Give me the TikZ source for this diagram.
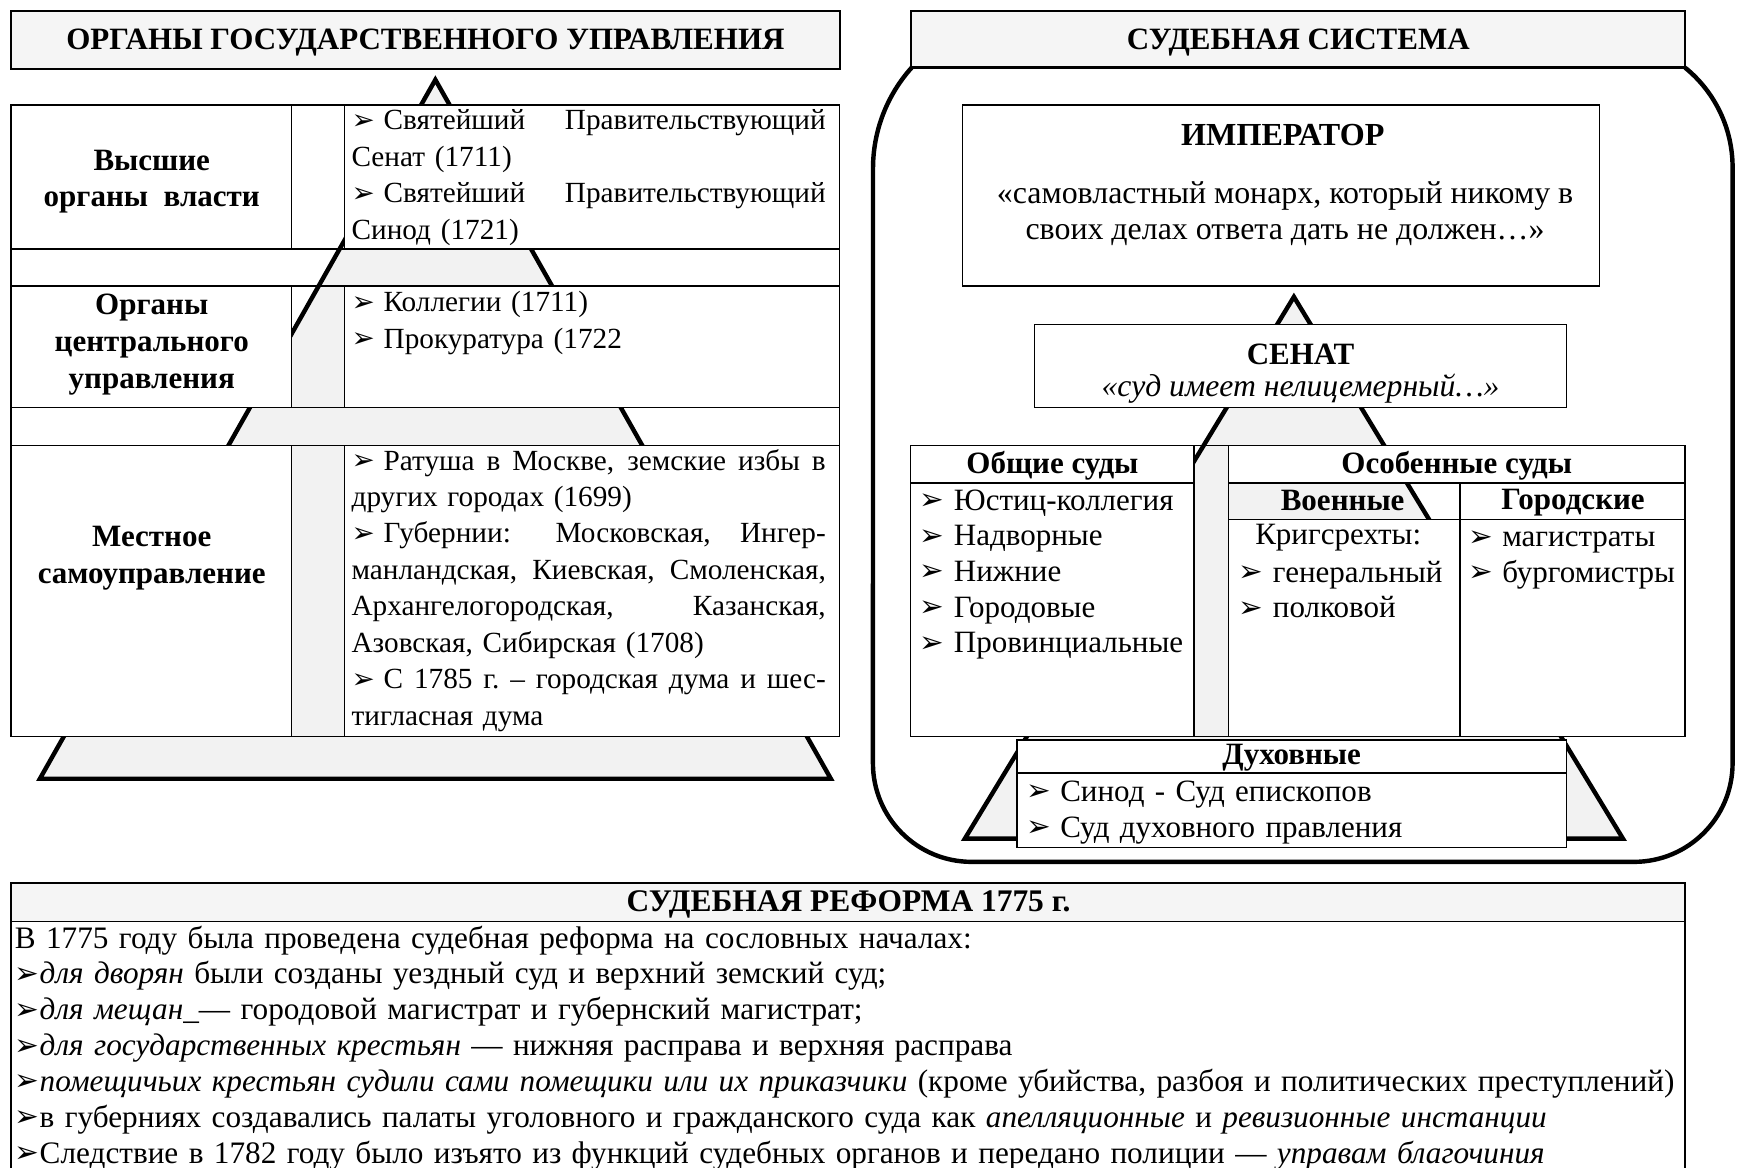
\documentclass[tikz,border=0pt]{standalone}
\usepackage{fontspec}
\setmainfont{Liberation Serif}
\newfontfamily\symf{DejaVu Sans}
\newcommand{\mybul}{\raisebox{0.02em}{\scalebox{0.95}{\symf ➢}}}
\newcommand{\bsp}{\mybul\kern0.3em}
\newcommand{\jl}[1]{{\spaceskip=0pt\xspaceskip=0pt\makebox[\hsize][s]{#1}}}
\newcommand{\tstr}{\rule{0pt}{0.85em}}
\tikzset{
  cellbox/.style={draw=black, line width=0.7pt, fill=white},
  openbox/.style={draw=black, line width=0.7pt},
  hdrbox/.style={draw=black, line width=1pt, fill=gray!8},
  pyr/.style={draw=black, line width=2pt, fill=gray!10, line join=miter},
  frame/.style={draw=black, line width=2pt},
  txt/.style={inner sep=0pt, anchor=north west, align=left, font=\fontsize{13.2}{16.45}\selectfont},
  ctxt/.style={inner sep=0pt, anchor=north west, align=left, font=\fontsize{14}{16.1}\selectfont},
  btxt/.style={inner sep=0pt, anchor=north west, align=left, font=\fontsize{14.1}{16.2}\selectfont},
  lbl/.style={inner sep=0pt, align=center, font=\bfseries\fontsize{14}{16.5}\selectfont},
  ttl/.style={inner sep=0pt, font=\bfseries\fontsize{14}{17}\selectfont},
}
\begin{document}
\begin{tikzpicture}[x=0.5pt,y=-0.5pt]
\useasboundingbox[fill=white] (0,0) rectangle (1568,1054);

% ---------------- LEFT PANEL ----------------
\draw[hdrbox] (10,10) rectangle (758,62);
\node[ttl] (lhdr) at (384,38) {ОРГАНЫ ГОСУДАРСТВЕННОГО УПРАВЛЕНИЯ};
\draw[pyr] (393,72) -- (750,703) -- (36,703) -- cycle;
\draw[openbox] (10,95) rectangle (758,665);
\draw[openbox] (10,225) -- (758,225) (10,258) -- (758,258) (10,368) -- (758,368) (10,402) -- (758,402);
\foreach \a/\b in {95/225, 258/368, 402/665} {
  \draw[cellbox] (10,\a) rectangle (263,\b);
  \draw[openbox] (263,\a) rectangle (311,\b);
  \draw[cellbox] (311,\a) rectangle (758,\b);
}
\node[lbl] (r1l) at (137,164) {Высшие\\органы\ \ власти};
\node[lbl] (r2l) at (137,311) {Органы\\центрального\\управления};
\node[lbl] (r3l) at (137,504) {Местное\\самоуправление};
\node[txt, text width=214pt] (r1t) at (317,94.5) {\tstr\jl{\bsp Святейший Правительствующий}\\Сенат (1711)\\\jl{\bsp Святейший Правительствующий}\\Синод (1721)};
\node[txt, text width=214pt] (r2t) at (317,258.5) {\tstr\bsp Коллегии (1711)\\\bsp Прокуратура (1722};
\node[txt, text width=214pt] (r3t) at (317,401.5) {\tstr\jl{\bsp Ратуша в Москве, земские избы в}\\других городах (1699)\\\jl{\bsp Губернии: Московская, Ингер-}\\\jl{манландская, Киевская, Смоленская,}\\\jl{Архангелогородская, Казанская,}\\Азовская, Сибирская (1708)\\\jl{\bsp С 1785 г.\ – городская дума и шес-}\\тигласная дума};

% ---------------- RIGHT PANEL ----------------
\draw[hdrbox] (822,10) rectangle (1521,61);
\node[ttl] (rhdr) at (1172,38) {СУДЕБНАЯ СИСТЕМА};
\draw[frame] (823,61) arc[start angle=222, end angle=180, radius=136] -- (788,689)
  arc[start angle=180, end angle=90, radius=89] -- (1475,778)
  arc[start angle=90, end angle=0, radius=89] -- (1564,151)
  arc[start angle=0, end angle=-51, radius=115.7];
\draw[cellbox] (869,95) rectangle (1444,258);
\node[inner sep=0pt, font=\bfseries\fontsize{14.5}{18}\selectfont] (imp) at (1158,122) {ИМПЕРАТОР};
\node[inner sep=0pt, align=center, font=\fontsize{14.4}{16.5}\selectfont] (impq) at (1160,193) {«самовластный монарх, который никому в\\своих делах ответа дать не должен…»};
\draw[pyr] (1168,268) -- (1465,757) -- (871,757) -- cycle;
\draw[cellbox] (934,293) rectangle (1414,368);
\node[inner sep=0pt, font=\bfseries\fontsize{14}{17}\selectfont] (sen) at (1174,320) {СЕНАТ};
\node[inner sep=0pt, font=\itshape\fontsize{14.3}{16}\selectfont] (senq) at (1174,351) {«суд имеет нелицемерный…»};
% courts table
\draw[cellbox] (822,402) rectangle (1078,436);
\draw[cellbox] (822,436) rectangle (1078,665);
\draw[openbox] (1078,402) rectangle (1109,665);
\draw[cellbox] (1109,402) rectangle (1521,436);
\draw[openbox] (1109,436) rectangle (1318,469);
\draw[cellbox] (1318,436) rectangle (1521,469);
\draw[cellbox] (1109,469) rectangle (1318,665);
\draw[cellbox] (1318,469) rectangle (1521,665);
\node[lbl] (obsh) at (950,420) {Общие суды};
\node[lbl] (osob) at (1315,420) {Особенные суды};
\node[lbl] (voen) at (1212,452) {Военные};
\node[lbl] (gorod) at (1420,454) {Городские};
\node[ctxt, text width=120pt] (obsht) at (830,436.4) {\tstr\bsp Юстиц-коллегия\\\bsp Надворные\\\bsp Нижние\\\bsp Городовые\\\bsp Провинциальные};
\node[inner sep=0pt, font=\fontsize{14}{16.1}\selectfont] (krig) at (1208,485) {Кригсрехты:};
\node[ctxt, text width=100pt] (voent) at (1118,501.4) {\tstr\bsp генеральный\\\bsp полковой};
\node[ctxt, text width=100pt] (gorodt) at (1325,469.4) {\tstr\bsp магистраты\\\bsp бургомистры};
% spiritual
\draw[cellbox] (918,668) rectangle (1414,765);
\draw[openbox] (918,698) -- (1414,698);
\node[lbl] (duh) at (1166,684) {Духовные};
\node[ctxt, text width=240pt] (duht) at (926,699.4) {\tstr\bsp Синод - Суд епископов\\\bsp Суд духовного правления};

% ---------------- BOTTOM PANEL ----------------
\draw[hdrbox] (10,797) rectangle (1521,832);
\draw[cellbox] (10,832) rectangle (1521,1075);
\node[ttl, font=\bfseries\fontsize{14.2}{17}\selectfont] (bhdr) at (766,816) {СУДЕБНАЯ РЕФОРМА 1775 г.};
\node[btxt, text width=755pt] (btx) at (13,831.4) {\tstr В 1775 году была проведена судебная реформа на сословных началах:\\
\mybul\textit{для дворян} были созданы уездный суд и верхний земский суд;\\
\mybul\textit{для мещан}\_— городовой магистрат и губернский магистрат;\\
\mybul\textit{для государственных крестьян} — нижняя расправа и верхняя расправа\\
\mybul\textit{помещичьих крестьян судили сами помещики или их приказчики} (кроме убийства, разбоя и политических преступлений)\\
\mybul в губерниях создавались палаты уголовного и гражданского суда как \textit{апелляционные} и \textit{ревизионные инстанции}\\
\mybul Следствие в 1782 году было изъято из функций судебных органов и передано полиции — \textit{управам благочиния}};
\end{tikzpicture}
\end{document}
